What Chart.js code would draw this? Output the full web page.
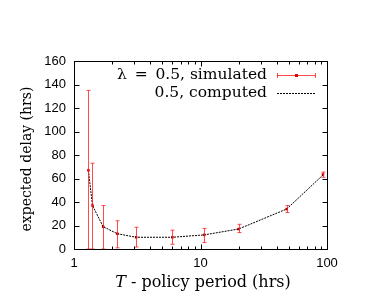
<!DOCTYPE html>
<html>
<head>
<meta charset="utf-8">
<script src="https://cdn.jsdelivr.net/npm/chart.js@4/dist/chart.umd.min.js"></script>
<style>
  html, body { margin: 0; padding: 0; background: #fff; }
  #wrap { width: 388px; height: 292px; }
</style>
</head>
<body>
<div id="wrap"><canvas id="c" width="388" height="292"></canvas></div>
<script>
// policy period T (hrs)
const periodos = [1.3, 1.4, 1.7, 2.2, 3.1, 6, 10.7, 20, 48, 93];
// simulated delay, mean and error bar ends
const simMedia = [67, 37, 19, 13, 10, 10, 12, 17, 34, 63.5];
const simBajo = [0, 0, 0, 1, 1.7, 4, 5.5, 14, 31, 61];
const simAlto = [135, 73, 37, 24, 18.5, 16, 17.5, 21, 37, 65.5];
// computed delay
const calculado = [67, 37, 19, 13, 10, 10, 12, 17, 34, 63];

const xTicks = [1, 10, 100];
const xMenores = [2, 3, 4, 5, 6, 7, 8, 9, 20, 30, 40, 50, 60, 70, 80, 90];
const yTicks = [0, 20, 40, 60, 80, 100, 120, 140, 160];

const serif = '"DejaVu Serif", serif';
const sans = '"Liberation Sans", Arial, sans-serif';
const rojo = 'rgba(255,30,30,0.8)';

// error bars for the simulated series
const barrasError = {
    id: 'barrasError',
    afterDatasetsDraw(chart) {
        const ctx = chart.ctx;
        const x = chart.scales.x, y = chart.scales.y;
        ctx.save();
        ctx.strokeStyle = rojo;
        ctx.lineWidth = 1;
        periodos.forEach((t, i) => {
            const px = Math.round(x.getPixelForValue(t)) + 0.5;
            const top = y.getPixelForValue(simAlto[i]);
            const bot = y.getPixelForValue(simBajo[i]);
            ctx.beginPath();
            ctx.moveTo(px, top); ctx.lineTo(px, bot);
            ctx.moveTo(px - 2, top); ctx.lineTo(px + 2, top);
            ctx.moveTo(px - 2, bot); ctx.lineTo(px + 2, bot);
            ctx.stroke();
        });
        ctx.restore();
    }
};

// gnuplot style frame, inner ticks, titles and legend
const marco = {
    id: 'marco',
    afterDraw(chart) {
        const ctx = chart.ctx;
        const a = chart.chartArea;
        const x = chart.scales.x, y = chart.scales.y;
        ctx.save();
        ctx.strokeStyle = '#000';
        ctx.lineWidth = 1;
        const l = Math.round(a.left) + 0.5, r = Math.round(a.right) + 0.5;
        const t = Math.round(a.top) + 0.5, b = Math.round(a.bottom) + 0.5;
        ctx.strokeRect(l, t, r - l, b - t);
        ctx.beginPath();
        xTicks.concat(xMenores).forEach(v => {
            const px = Math.round(x.getPixelForValue(v)) + 0.5;
            const len = xTicks.includes(v) ? 5 : 3;
            ctx.moveTo(px, b); ctx.lineTo(px, b - len);
            ctx.moveTo(px, t); ctx.lineTo(px, t + len);
        });
        yTicks.forEach(v => {
            const py = Math.round(y.getPixelForValue(v)) + 0.5;
            ctx.moveTo(l, py); ctx.lineTo(l + 5, py);
            ctx.moveTo(r, py); ctx.lineTo(r - 5, py);
        });
        ctx.stroke();

        // axis titles
        ctx.fillStyle = '#000';
        ctx.textBaseline = 'middle';
        ctx.font = '14px ' + serif;
        ctx.save();
        ctx.translate(27, 159);
        ctx.rotate(-Math.PI / 2);
        ctx.textAlign = 'center';
        ctx.fillText('expected delay (hrs)', 0, 0);
        ctx.restore();

        const resto = ' - policy period (hrs)';
        ctx.font = 'italic 16px ' + serif;
        const wT = ctx.measureText('T').width;
        ctx.font = '16px ' + serif;
        const wR = ctx.measureText(resto).width;
        const x0 = 203 - (wT + wR) / 2;
        ctx.textAlign = 'left';
        ctx.font = 'italic 16px ' + serif;
        ctx.fillText('T', x0, 283);
        ctx.font = '16px ' + serif;
        ctx.fillText(resto, x0 + wT, 283);

        // legend
        ctx.font = '15.5px ' + serif;
        const nombres = [chart.data.datasets[0].label, chart.data.datasets[1].label];
        ctx.textAlign = 'right';
        ctx.fillText(nombres[0], 267, 75);
        ctx.fillText(nombres[1], 267, 93);
        ctx.strokeStyle = rojo;
        ctx.beginPath();
        ctx.moveTo(277, 75.5); ctx.lineTo(315, 75.5);
        ctx.moveTo(277.5, 73); ctx.lineTo(277.5, 78);
        ctx.moveTo(315.5, 73); ctx.lineTo(315.5, 78);
        ctx.stroke();
        ctx.fillStyle = '#e00000';
        ctx.fillRect(295, 74, 3, 3);
        ctx.strokeStyle = '#000';
        ctx.setLineDash([2, 1]);
        ctx.beginPath();
        ctx.moveTo(277, 93.5); ctx.lineTo(315, 93.5);
        ctx.stroke();
        ctx.restore();
    }
};

new Chart(document.getElementById('c'), {
    type: 'line',
    data: {
        datasets: [
            {
                label: 'λ\u2002=\u20020.5, simulated',
                data: periodos.map((t, i) => ({x: t, y: simMedia[i]})),
                showLine: false,
                pointStyle: 'rect',
                pointRadius: 1.8,
                pointBackgroundColor: '#e00000',
                pointBorderWidth: 0,
                order: 2
            },
            {
                label: '0.5, computed',
                data: periodos.map((t, i) => ({x: t, y: calculado[i]})),
                borderColor: '#000',
                borderWidth: 1,
                borderDash: [2, 1],
                pointRadius: 0,
                tension: 0,
                order: 1
            }
        ]
    },
    plugins: [barrasError, marco],
    options: {
        responsive: false,
        animation: false,
        layout: { padding: { left: 0, right: 61, top: 61, bottom: 0 } },
        plugins: { legend: { display: false }, tooltip: { enabled: false } },
        scales: {
            x: {
                type: 'logarithmic',
                min: 1,
                max: 100,
                afterBuildTicks: s => { s.ticks = xTicks.map(v => ({value: v})); },
                afterFit: s => { s.height = 43; },
                grid: { display: false, drawTicks: false },
                border: { display: false },
                ticks: {
                    color: '#000',
                    font: { family: sans, size: 13 },
                    padding: 7,
                    maxRotation: 0,
                    autoSkip: false,
                    callback: v => String(v)
                }
            },
            y: {
                min: 0,
                max: 160,
                afterBuildTicks: s => { s.ticks = yTicks.map(v => ({value: v})); },
                afterFit: s => { s.width = 74; },
                grid: { display: false, drawTicks: false },
                border: { display: false },
                ticks: {
                    color: '#000',
                    font: { family: sans, size: 13 },
                    padding: 8
                }
            }
        }
    }
});
</script>
</body>
</html>
